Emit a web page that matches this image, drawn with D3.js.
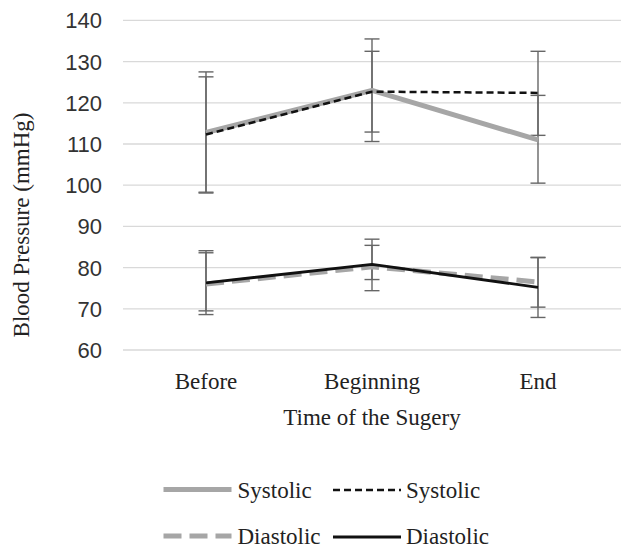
<!DOCTYPE html>
<html>
<head>
<meta charset="utf-8">
<script src="https://cdn.jsdelivr.net/npm/d3@7"></script>
<style>
  html, body { margin: 0; padding: 0; background: #fff; }
  svg { display: block; }
</style>
</head>
<body>
<div id="chart"></div>
<script>
// Chart data
const categories = ['Before', 'Beginning', 'End'];
const yTicks = [60, 70, 80, 90, 100, 110, 120, 130, 140];

const systolicGray = [112.8, 123.0, 111.0];
const systolicGrayHigh = [127.5, 135.5, 121.8];
const systolicGrayLow = [98.1, 110.6, 100.5];

const systolicDashed = [112.3, 122.7, 122.4];
const systolicDashedHigh = [126.3, 132.5, 132.5];
const systolicDashedLow = [98.3, 112.9, 112.1];

const diastolicGray = [76.0, 80.2, 76.5];
const diastolicGrayHigh = [83.6, 85.4, 82.5];
const diastolicGrayLow = [69.5, 77.1, 70.4];

const diastolicBlack = [76.3, 80.8, 75.2];
const diastolicBlackHigh = [84.1, 86.9, 82.4];
const diastolicBlackLow = [68.6, 74.4, 67.9];

const legendNames = ['Systolic', 'Systolic', 'Diastolic', 'Diastolic'];

document.addEventListener('DOMContentLoaded', () => {
    const width = 621;
    const height = 549;

    const svg = d3.select('#chart')
        .append('svg')
        .attr('width', width)
        .attr('height', height);

    // Scales
    const x = d3.scalePoint()
        .domain(categories)
        .range([123, 621])
        .padding(0.5);

    const y = d3.scaleLinear()
        .domain([60, 140])
        .range([350, 20.4]);

    // Series styles (drawn in order, later on top)
    const series = [
        { name: legendNames[0], values: systolicGray, high: systolicGrayHigh, low: systolicGrayLow,
          color: '#a6a6a6', width: 5, dash: null },
        { name: legendNames[1], values: systolicDashed, high: systolicDashedHigh, low: systolicDashedLow,
          color: '#111', width: 2.5, dash: '7,4' },
        { name: legendNames[2], values: diastolicGray, high: diastolicGrayHigh, low: diastolicGrayLow,
          color: '#a6a6a6', width: 5, dash: '18,8' },
        { name: legendNames[3], values: diastolicBlack, high: diastolicBlackHigh, low: diastolicBlackLow,
          color: '#111', width: 2.8, dash: null }
    ];

    // Gridlines
    svg.append('g')
        .selectAll('line')
        .data(yTicks)
        .enter().append('line')
        .attr('x1', x.range()[0])
        .attr('x2', x.range()[1])
        .attr('y1', d => y(d))
        .attr('y2', d => y(d))
        .attr('stroke', '#d9d9d9')
        .attr('stroke-width', 1.3);

    // Y tick labels
    svg.append('g')
        .selectAll('text')
        .data(yTicks)
        .enter().append('text')
        .attr('x', 102)
        .attr('y', d => y(d))
        .attr('dy', '0.36em')
        .attr('text-anchor', 'end')
        .attr('font-family', '"Liberation Sans", Arial, sans-serif')
        .attr('font-size', 22)
        .attr('fill', '#333')
        .text(d => d);

    // Category labels
    svg.append('g')
        .selectAll('text')
        .data(categories)
        .enter().append('text')
        .attr('x', d => x(d))
        .attr('y', 389)
        .attr('text-anchor', 'middle')
        .attr('font-family', '"Liberation Serif", "Times New Roman", serif')
        .attr('font-size', 23)
        .attr('fill', '#222')
        .text(d => d);

    // Axis titles
    svg.append('text')
        .attr('x', (x.range()[0] + x.range()[1]) / 2)
        .attr('y', 425)
        .attr('text-anchor', 'middle')
        .attr('font-family', '"Liberation Serif", "Times New Roman", serif')
        .attr('font-size', 23)
        .attr('fill', '#222')
        .text('Time of the Sugery');

    svg.append('text')
        .attr('transform', 'translate(28.5,225) rotate(-90)')
        .attr('text-anchor', 'middle')
        .attr('font-family', '"Liberation Serif", "Times New Roman", serif')
        .attr('font-size', 23)
        .attr('fill', '#222')
        .text('Blood Pressure (mmHg)');

    // Error bars
    const errG = svg.append('g')
        .attr('stroke', '#666')
        .attr('stroke-width', 1.4)
        .attr('fill', 'none');

    series.forEach(s => {
        categories.forEach((c, i) => {
            const cx = x(c);
            errG.append('line')
                .attr('x1', cx).attr('x2', cx)
                .attr('y1', y(s.high[i])).attr('y2', y(s.low[i]));
            [s.high[i], s.low[i]].forEach(v => {
                errG.append('line')
                    .attr('x1', cx - 7.5).attr('x2', cx + 7.5)
                    .attr('y1', y(v)).attr('y2', y(v));
            });
        });
    });

    // Lines
    const line = d3.line()
        .x((d, i) => x(categories[i]))
        .y(d => y(d));

    series.forEach(s => {
        svg.append('path')
            .datum(s.values)
            .attr('d', line)
            .attr('fill', 'none')
            .attr('stroke', s.color)
            .attr('stroke-width', s.width)
            .attr('stroke-linejoin', 'round')
            .attr('stroke-dasharray', s.dash);
    });

    // Legend (2 x 2)
    const legendPos = [
        { lx: 163.5, ly: 489.5, tx: 237.5, ty: 498 },
        { lx: 333, ly: 490, tx: 406, ty: 498 },
        { lx: 163.5, ly: 536, tx: 237.5, ty: 543.5 },
        { lx: 333, ly: 537, tx: 406, ty: 543.5 }
    ];

    const legend = svg.append('g');
    series.forEach((s, i) => {
        const p = legendPos[i];
        legend.append('line')
            .attr('x1', p.lx).attr('x2', p.lx + 68)
            .attr('y1', p.ly).attr('y2', p.ly)
            .attr('stroke', s.color)
            .attr('stroke-width', s.width)
            .attr('stroke-dasharray', s.dash);
        legend.append('text')
            .attr('x', p.tx)
            .attr('y', p.ty)
            .attr('font-family', '"Liberation Serif", "Times New Roman", serif')
            .attr('font-size', 23)
            .attr('fill', '#222')
            .text(s.name);
    });
});
</script>
</body>
</html>
